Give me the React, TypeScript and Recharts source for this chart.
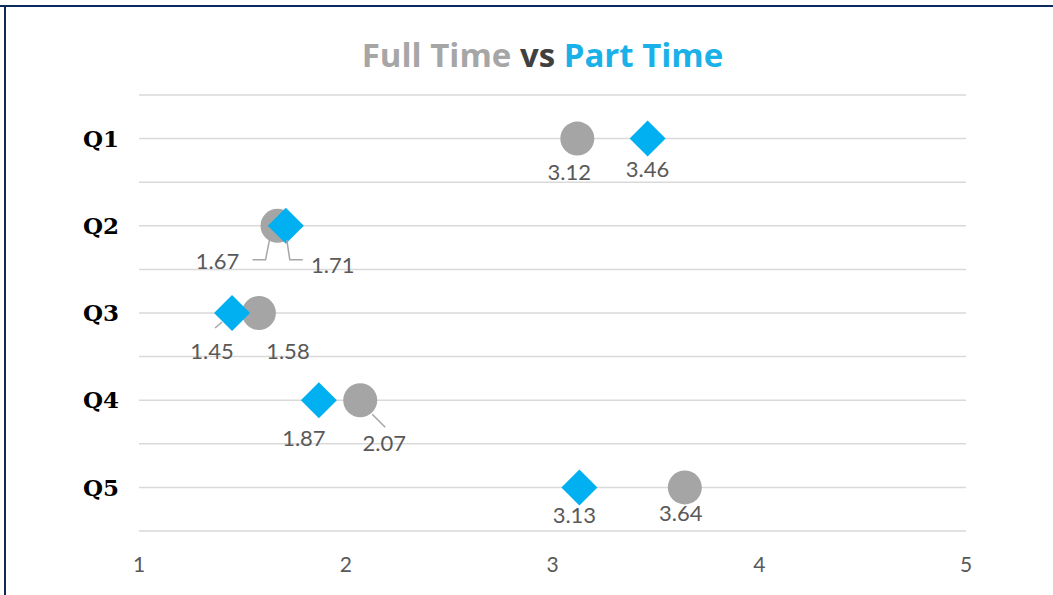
import { ScatterChart, Scatter, XAxis, YAxis, CartesianGrid } from "recharts";

const categories = ["Q1", "Q2", "Q3", "Q4", "Q5"];
const fullTime = [3.12, 1.67, 1.58, 2.07, 3.64];
const partTime = [3.46, 1.71, 1.45, 1.87, 3.13];
const xTicks = [1, 2, 3, 4, 5];

const n = categories.length;
const yTicks = Array.from({ length: n * 2 + 1 }, (_, k) => k / 2);

const ftData = categories.map((cat, i) => ({ cat, x: fullTime[i], y: n - i - 0.5 }));
const ptData = categories.map((cat, i) => ({ cat, x: partTime[i], y: n - i - 0.5 }));

type Lbl = { dx: number; dy: number; lead?: number[][] };

// label placement relative to the marker (like Excel's dragged data labels)
const FT_LABELS: Lbl[] = [
  { dx: -8, dy: 33 },
  { dx: -60, dy: 35, lead: [[-8, 14], [-12, 34], [-25, 34]] },
  { dx: 29, dy: 37 },
  { dx: 24, dy: 42, lead: [[12, 14], [25, 27]] },
  { dx: -4, dy: 25 },
];
const PT_LABELS: Lbl[] = [
  { dx: 0, dy: 30 },
  { dx: 47, dy: 39, lead: [[1, 14], [4, 34], [17, 34]] },
  { dx: -20, dy: 37, lead: [[-10, 9], [-17, 15]] },
  { dx: -15, dy: 37 },
  { dx: -5, dy: 27 },
];

const GREY = "#a5a5a5";
const BLUE = "#00b0f0";
const TEXT = "#595959";
const NAVY = "#0d2a5f";

const DataLabel = ({ cx, cy, value, lbl }: { cx: number; cy: number; value: number; lbl: Lbl }) => (
  <g>
    {lbl.lead && (
      <polyline
        points={lbl.lead.map(([a, b]) => `${cx + a},${cy + b}`).join(" ")}
        fill="none"
        stroke="#a6a6a6"
        strokeWidth={1.5}
      />
    )}
    <text
      x={cx + lbl.dx}
      y={cy + lbl.dy}
      textAnchor="middle"
      dominantBaseline="central"
      fill={TEXT}
      fontSize={22}
      fontFamily="Lato, sans-serif"
    >
      {value.toFixed(2)}
    </text>
  </g>
);

const circleShape = (props: any) => {
  const { cx, cy, payload } = props;
  const i = categories.indexOf(payload.cat);
  return (
    <g>
      <circle cx={cx} cy={cy} r={17} fill={GREY} />
      <DataLabel cx={cx} cy={cy} value={payload.x} lbl={FT_LABELS[i]} />
    </g>
  );
};

const diamondShape = (props: any) => {
  const { cx, cy, payload } = props;
  const i = categories.indexOf(payload.cat);
  const r = 18;
  return (
    <g>
      <polygon points={`${cx},${cy - r} ${cx + r},${cy} ${cx},${cy + r} ${cx - r},${cy}`} fill={BLUE} />
      <DataLabel cx={cx} cy={cy} value={payload.x} lbl={PT_LABELS[i]} />
    </g>
  );
};

const yLabel = (v: number) => {
  const i = n - 0.5 - v;
  return Number.isInteger(i) ? categories[i] : "";
};

export default function App() {
  return (
    <div style={{ position: "absolute", left: 0, top: 0, width: 1053, height: 595, background: "#fff", overflow: "hidden" }}>
      <div style={{ position: "absolute", left: 0, top: 5, width: 1053, height: 2, background: NAVY }} />
      <div style={{ position: "absolute", left: 4, top: 5, width: 2, height: 590, background: NAVY }} />
      <div
        style={{
          position: "absolute",
          left: 16,
          width: 1053,
          top: 33,
          textAlign: "center",
          fontFamily: "'Open Sans', sans-serif",
          fontWeight: 700,
          fontSize: 33,
          lineHeight: "44px",
        }}
      >
        <span style={{ color: "#a6a6a6" }}>Full Time</span>
        <span style={{ color: "#404040" }}> vs </span>
        <span style={{ color: "#1ab0e8" }}>Part Time</span>
      </div>
      <ScatterChart width={1053} height={595} margin={{ top: 95, right: 87, bottom: 24, left: 79 }}>
        <CartesianGrid vertical={false} stroke="#d9d9d9" strokeWidth={1.5} />
        <XAxis
          type="number"
          dataKey="x"
          domain={[1, 5]}
          ticks={xTicks}
          axisLine={false}
          tickLine={false}
          tickMargin={20}
          height={40}
          tick={{ fill: TEXT, fontSize: 21, fontFamily: "Lato, sans-serif" }}
        />
        <YAxis
          type="number"
          dataKey="y"
          domain={[0, n]}
          ticks={yTicks}
          interval={0}
          width={60}
          axisLine={false}
          tickLine={false}
          tickMargin={14}
          tickFormatter={yLabel}
          tick={{ fill: "#000", fontSize: 23, fontWeight: 700, fontFamily: "'DejaVu Serif', serif" }}
        />
        <Scatter data={ftData} shape={circleShape} isAnimationActive={false} />
        <Scatter data={ptData} shape={diamondShape} isAnimationActive={false} />
      </ScatterChart>
    </div>
  );
}
